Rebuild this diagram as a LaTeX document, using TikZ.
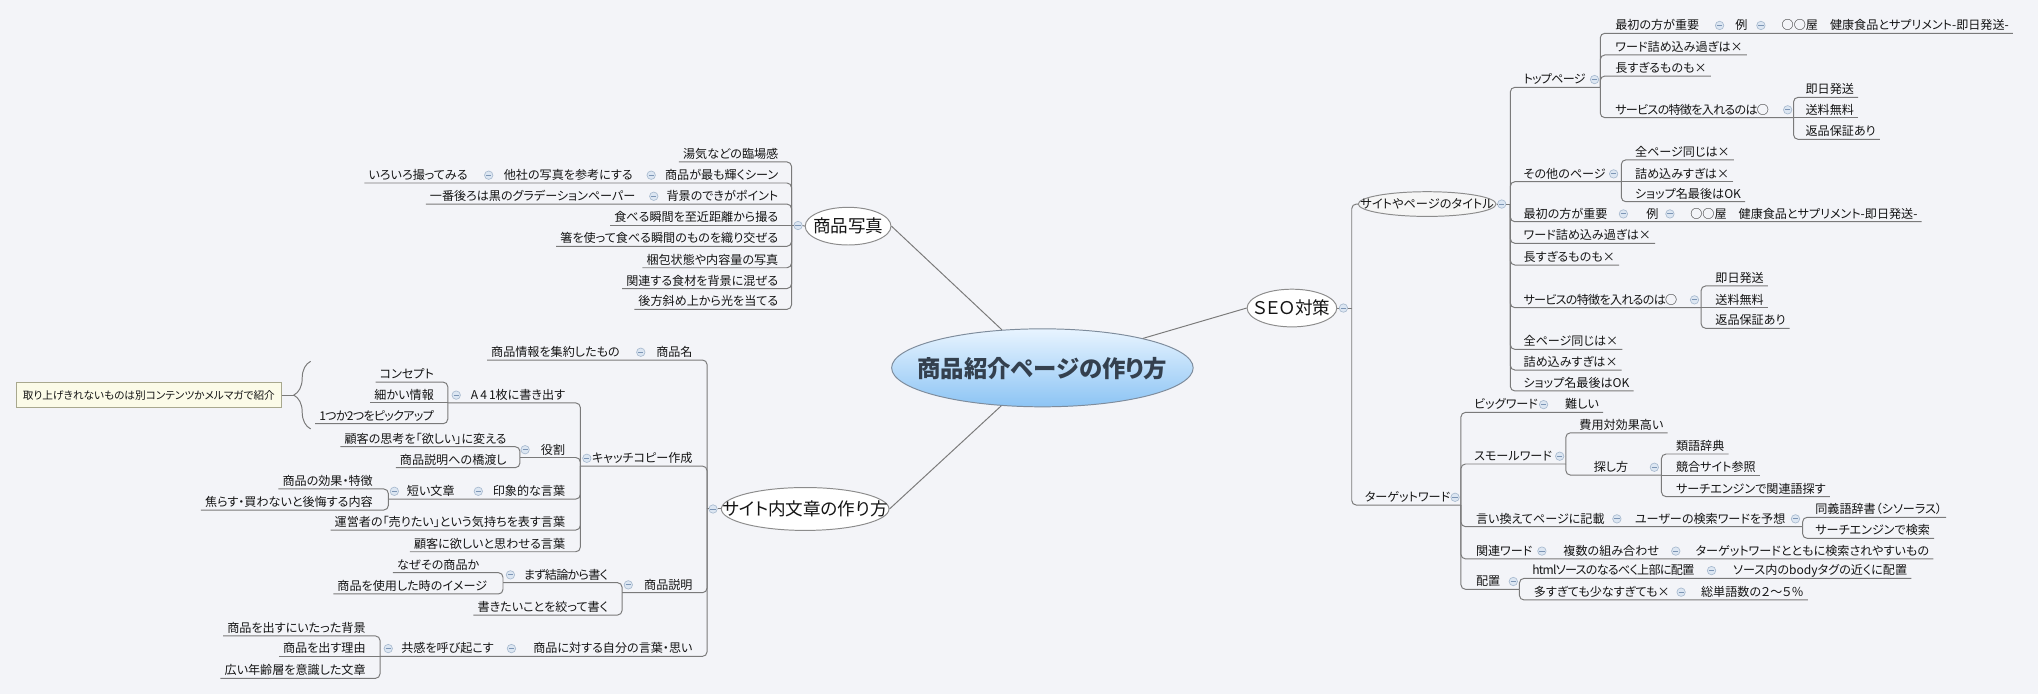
\documentclass[tikz,border=0pt]{standalone}
\usepackage{fontspec}
\setmainfont[RawFeature=+palt]{Noto Sans CJK JP}
\newfontfamily\narf[RawFeature=+palt, LetterSpace=-6]{Noto Sans CJK JP}
\usetikzlibrary{shapes.geometric,decorations.pathreplacing}
\definecolor{bg}{HTML}{F3F4F8}
\definecolor{linec}{HTML}{7A7A7A}
\definecolor{txtc}{HTML}{141414}
\definecolor{ellb}{HTML}{8C8C8C}
\definecolor{ttF}{HTML}{F5F5F5}
\definecolor{rootT}{HTML}{E8F4FF}
\definecolor{rootB}{HTML}{8CC4F4}
\definecolor{rootD}{HTML}{7E8C9C}
\definecolor{rootX}{HTML}{34404E}
\definecolor{btnF}{HTML}{DCE6F2}
\definecolor{btnD}{HTML}{A8BACF}
\definecolor{btnM}{HTML}{7C95B5}
\definecolor{cbF}{HTML}{FBFBE8}
\definecolor{cbD}{HTML}{A8A88E}
\newcommand\lf{\fontsize{9.3pt}{11pt}\selectfont}
\newcommand\Lk[2]{\draw[ln] (#1.south west) -- (#1.south west -| #2) -- (#2);}
\newcommand\Rk[2]{\draw[ln] (#1.south east) -- (#1.south east -| #2) -- (#2);}
\newcommand\Jk[2]{\draw[ln] (#1) -- (#1 -| #2) -- (#2);}
\newcommand\Lst[2]{\draw[ln] (#1.south west) -- (#2);}
\newcommand\Rst[2]{\draw[ln] (#1.south east) -- (#2);}
\begin{document}
\begin{tikzpicture}[x=1pt,y=-1pt,
 tx/.style={font=\lf, text=txtc, inner xsep=3pt, inner ysep=0pt, text height=8pt, text depth=2.5pt},
 L/.style={tx, anchor=south east},
 R/.style={tx, anchor=south west},
 nar/.style={font=\narf\lf},
 ln/.style={draw=linec, line width=0.75pt, rounded corners=3.5pt},
 btn/.style={circle, draw=btnD, fill=btnF, line width=0.5pt, minimum size=6.5pt, inner sep=0pt,
   path picture={\draw[btnM, line width=0.7pt] ([xshift=-2pt]path picture bounding box.center) -- ([xshift=2pt]path picture bounding box.center);}},
 el/.style={ellipse, draw=ellb, fill=white, line width=0.75pt, inner sep=0pt},
 big/.style={font=\fontsize{13.5pt}{15pt}\selectfont, text=txtc, inner sep=0pt},
]
\fill[bg] (0,0) rectangle (1568,534);
\useasboundingbox (0,0) rectangle (1568,534);

% ---------- root ----------
\node[ellipse, draw=rootD, top color=rootT, bottom color=rootB, line width=0.75pt, minimum width=232pt, minimum height=60pt, inner sep=0pt] (root) at (802,283) {};
\node[font=\bfseries\fontsize{18pt}{20pt}\selectfont, text=rootX, inner sep=0pt] (rootT) at (802,284) {商品紹介ページの作り方};

% ---------- 商品写真 ----------
\node[el, minimum width=66pt, minimum height=29pt] (sp) at (652.5,174) {};
\node[big] (spT) at (652.5,174) {商品写真};
\coordinate (Jsp) at (609,173.5);
\node[btn] (bsp) at (614,173.5) {};
\node[L] (sp1) at (602,124.6) {湯気などの臨場感};
\node[L] (sp2) at (602,140.8) {商品が最も輝くシーン};
\node[btn] (bsp2) at (501,134.8) {};
\node[L] (sp2a) at (490,140.8) {他社の写真を参考にする};
\node[btn] (bsp2a) at (376,134.8) {};
\node[L] (sp2b) at (363,140.8) {いろいろ撮ってみる};
\node[L] (sp3) at (602,157) {背景のできがポイント};
\node[btn] (bsp3) at (503,151) {};
\node[L] (sp3a) at (492,157) {一番後ろは黒のグラデーションペーパー};
\node[L] (sp4) at (602,173.5) {食べる瞬間を至近距離から撮る};
\node[L] (sp5) at (602,189.5) {箸を使って食べる瞬間のものを織り交ぜる};
\node[L] (sp6) at (602,206) {梱包状態や内容量の写真};
\node[L] (sp7) at (602,222) {関連する食材を背景に混ぜる};
\node[L] (sp8) at (602,238) {後方斜め上から光を当てる};

% ---------- サイト内文章の作り方 ----------
\node[el, minimum width=129pt, minimum height=33pt] (sit) at (619.5,391.6) {};
\node[big] (sitT) at (619.5,391.6) {サイト内文章の作り方};
\coordinate (Jsit) at (544,391.6);
\node[btn] (bsit) at (548.6,391.6) {};
\node[L] (shn) at (536,277) {商品名};
\node[btn] (bshn) at (493,271) {};
\node[L] (shn1) at (480,277) {商品情報を集約したもの};
\node[L] (cc) at (536,358.6) {キャッチコピー作成};
\node[btn] (bcc) at (451.5,352.6) {};
\coordinate (Jcc) at (446.5,358.6);
\node[L] (ss) at (536,456) {商品説明};
\node[btn] (bss) at (483.4,450) {};
\coordinate (Jss) at (478.6,456);
\node[L] (so) at (536,505) {商品に対する自分の言葉・思い};
\node[btn] (bso) at (393.5,499) {};
\node[L] (so1) at (383,505) {共感を呼び起こす};
\node[btn] (bso1) at (298.7,499) {};
\coordinate (Jso1) at (292.4,505);

% キャッチコピー作成
\node[L] (a41) at (438,310) {A\,4\,1枚に書き出す};
\node[btn] (ba41) at (351,304) {};
\coordinate (Ja41) at (344.5,310);
\node[L] (yk) at (438,352) {役割};
\node[btn] (byk) at (404,346) {};
\coordinate (Jyk) at (400,352);
\node[L] (ins) at (438,384) {印象的な言葉};
\node[btn] (bins) at (368,378) {};
\node[L] (mj) at (353,384) {短い文章};
\node[btn] (bmj) at (303.4,378) {};
\coordinate (Jmj) at (298.8,384);
\node[L] (un) at (438,407.8) {運営者の「売りたい」という気持ちを表す言葉};
\node[L] (kk) at (438,424.5) {顧客に欲しいと思わせる言葉};

\node[L] (cn) at (337,294) {コンセプト};
\node[L] (ck) at (337,310) {細かい情報};
\node[L, nar] (pk) at (337,326) {1つか2つをピックアップ};

\node[L] (kh) at (393,343.7) {顧客の思考を「欲しい」に変える};
\node[L] (hs) at (393,359.8) {商品説明への橋渡し};

\node[L] (kt) at (290,376.2) {商品の効果・特徴};
\node[L] (ab) at (290,392.4) {焦らす・買わないと後悔する内容};

\node[L, nar] (mk) at (471,448.3) {まず結論から書く};
\node[btn] (bmk) at (392.7,442.3) {};
\coordinate (Jmk) at (387,448.3);
\node[L] (kt2) at (471,473.2) {書きたいことを絞って書く};
\node[L] (nz) at (372,440.6) {なぜその商品か};
\node[L] (im) at (378,457) {商品を使用した時のイメージ};

\node[L] (hk) at (284.5,489.3) {商品を出すにいたった背景};
\node[L] (ri) at (284.5,505) {商品を出す理由};
\node[L] (hn) at (284.5,521.9) {広い年齢層を意識した文章};

% brace + callout
\coordinate (brB) at (239,330);
\coordinate (brT) at (239,278);
\coordinate (brTip) at (226,304);
\draw[draw=linec, line width=0.75pt, decorate, decoration={brace, amplitude=13pt}] (brB) -- (brT);
\node[draw=cbD, fill=cbF, line width=0.6pt, minimum width=204pt, minimum height=19pt, inner sep=0pt,
  font=\fontsize{8.2pt}{10pt}\selectfont, text=txtc] (cb) at (114.5,304) {取り上げきれないものは別コンテンツかメルマガで紹介};
\draw[ln] (cb.east) -- (brTip);

% ---------- SEO対策 ----------
\node[el, minimum width=69pt, minimum height=29pt] (seo) at (994,237) {};
\node[big] (seoT) at (994,237) {ＳＥＯ対策};
\coordinate (Jseo) at (1040,237);
\node[btn] (bseo) at (1033.6,237) {};

\node[el, fill=ttF, minimum width=106pt, minimum height=19pt] (tt) at (1098,157) {};
\node[font=\fontsize{9.4pt}{11pt}\selectfont, text=txtc, inner sep=0pt] (ttT) at (1098,157) {サイトやページのタイトル};
\node[btn] (btt) at (1155.4,157) {};
\coordinate (Jtt) at (1162,157);

\node[R] (tw) at (1047,388.6) {ターゲットワード};
\node[btn] (btw) at (1119.5,382.6) {};
\coordinate (Jtw) at (1124,388.6);

% タイトル children
\node[R, nar] (tp) at (1169,67.2) {トップページ};
\node[btn] (btp) at (1226.8,61.2) {};
\coordinate (Jtp) at (1231.2,67.2);
\node[R] (so2) at (1169,139.8) {その他のページ};
\node[btn] (bso2) at (1241.5,133.8) {};
\coordinate (Jso2) at (1247.4,139.8);
\node[R] (fi2) at (1169,170.6) {最初の方が重要};
\node[btn] (bfi2) at (1249,164.6) {};
\node[R] (fi2a) at (1263.5,170.6) {例};
\node[btn] (bfi2a) at (1284.8,164.6) {};
\node[R] (fi2b) at (1297.3,170.6) {○○屋　健康食品とサプリメント-即日発送-};
\node[R] (wd2) at (1169,187.2) {ワード詰め込み過ぎは×};
\node[R] (ng2) at (1169,203.9) {長すぎるものも×};
\node[R, nar] (sv2) at (1169,236.7) {サービスの特徴を入れるのは○};
\node[btn] (bsv2) at (1303.7,230.7) {};
\coordinate (Jsv2) at (1308.8,236.7);
\node[R] (ap2) at (1169,268.8) {全ページ同じは×};
\node[R] (tm2) at (1169,284.7) {詰め込みすぎは×};
\node[R] (sh2) at (1169,300.8) {ショップ名最後はOK};

\node[R] (fi1) at (1239.6,25.6) {最初の方が重要};
\node[btn] (bfi1) at (1323,19.6) {};
\node[R] (fi1a) at (1332,25.6) {例};
\node[btn] (bfi1a) at (1354.8,19.6) {};
\node[R] (fi1b) at (1367.6,25.6) {○○屋　健康食品とサプリメント-即日発送-};
\node[R] (wd1) at (1239.6,42.3) {ワード詰め込み過ぎは×};
\node[R] (ng1) at (1239.6,58.5) {長すぎるものも×};
\node[R, nar] (sv1) at (1239.6,90.5) {サービスの特徴を入れるのは○};
\node[btn] (bsv1) at (1375.4,84.5) {};
\coordinate (Jsv1) at (1379.9,90.5);
\node[R] (jh1) at (1386,74.9) {即日発送};
\node[R] (sr1) at (1386,90.5) {送料無料};
\node[R] (hp1) at (1386,107.2) {返品保証あり};

\node[R] (ap1) at (1254.8,123) {全ページ同じは×};
\node[R] (tm1) at (1254.8,139.8) {詰め込みすぎは×};
\node[R] (sh1) at (1254.8,155.2) {ショップ名最後はOK};

\node[R] (jh2) at (1316.6,220) {即日発送};
\node[R] (sr2) at (1316.6,236.7) {送料無料};
\node[R] (hp2) at (1316.6,252.6) {返品保証あり};

% ターゲットワード children
\node[R] (bw) at (1131,317.3) {ビッグワード};
\node[btn] (bbw) at (1187.6,311.3) {};
\node[R] (bwa) at (1201,317.3) {難しい};
\node[R] (sw) at (1131,357) {スモールワード};
\node[btn] (bsw) at (1200,351) {};
\coordinate (Jsw) at (1204.7,357);
\node[R] (ik) at (1132.4,405.2) {言い換えてページに記載};
\node[btn] (bik) at (1244,399.2) {};
\node[R] (ika) at (1254.7,405.2) {ユーザーの検索ワードを予想};
\node[btn] (bika) at (1381.4,399.2) {};
\coordinate (Jus) at (1386.9,405.2);
\node[R] (kw) at (1132.4,430) {関連ワード};
\node[btn] (bkw) at (1186.3,424) {};
\node[R] (kwa) at (1199.7,430) {複数の組み合わせ};
\node[btn] (bkwa) at (1289.3,424) {};
\node[R] (kwb) at (1301.4,430) {ターゲットワードとともに検索されやすいもの};
\node[R] (hc) at (1132.4,453.4) {配置};
\node[btn] (bhc) at (1164.3,447.4) {};
\coordinate (Jhc) at (1169,453.4);

\node[R] (hy) at (1212,333) {費用対効果高い};
\node[R] (sg) at (1223,365.5) {探し方};
\node[btn] (bsg) at (1272.8,359.5) {};
\coordinate (Jsg) at (1278.3,365.5);
\node[R] (rg) at (1286.3,349.3) {類語辞典};
\node[R] (kg) at (1286.3,365.5) {競合サイト参照};
\node[R] (se) at (1286.3,382.1) {サーチエンジンで関連語探す};

\node[R] (dg) at (1393.5,398) {同義語辞書（シソーラス）};
\node[R] (sk) at (1393.5,414.2) {サーチエンジンで検索};

\node[R, nar] (ht) at (1175.7,445) {htmlソースのなるべく上部に配置};
\node[btn] (bht) at (1316.8,439) {};
\node[R] (hta) at (1330.3,445) {ソース内のbodyタグの近くに配置};
\node[R] (ot) at (1177,461.6) {多すぎても少なすぎても×};
\node[btn] (bot) at (1293.4,455.6) {};
\node[R] (ota) at (1305.6,461.6) {総単語数の２〜５％};

% ---------- connectors ----------
\draw[ln] (root) -- (sp.east);
\draw[ln] (root) -- (sit.east);
\draw[ln] (root) -- (seo.west);

\draw[ln] (Jsp) -- (bsp.west);
\draw[ln] (bsp.east) -- (sp.west);
\Lk{sp1}{Jsp} \Lk{sp2b}{Jsp} \Lk{sp3a}{Jsp} \Lst{sp4}{Jsp}
\Lk{sp5}{Jsp} \Lk{sp6}{Jsp} \Lk{sp7}{Jsp} \Lk{sp8}{Jsp}

\draw[ln] (Jsit) -- (bsit.west);
\draw[ln] (bsit.east) -- (sit.west);
\Lk{shn1}{Jsit} \Jk{Jcc}{Jsit} \Jk{Jss}{Jsit} \Jk{Jso1}{Jsit}

\Jk{Ja41}{Jcc} \Jk{Jyk}{Jcc} \Jk{Jmj}{Jcc} \Lk{un}{Jcc} \Lk{kk}{Jcc}
\Lk{cn}{Ja41} \Lst{ck}{Ja41} \Lk{pk}{Ja41}
\Lk{kh}{Jyk} \Lk{hs}{Jyk}
\Lk{kt}{Jmj} \Lk{ab}{Jmj}
\Jk{Jmk}{Jss} \Lk{kt2}{Jss}
\Lk{nz}{Jmk} \Lk{im}{Jmk}
\Lk{hk}{Jso1} \Lst{ri}{Jso1} \Lk{hn}{Jso1}

\draw[ln] (seo.east) -- (bseo.west);
\draw[ln] (bseo.east) -- (Jseo);
\draw[ln] (tt.west) -- (tt.west -| Jseo) -- (Jseo);
\Jk{Jtw}{Jseo}
\draw[ln] (tt.east) -- (btt.west);
\draw[ln] (btt.east) -- (Jtt);

\Jk{Jtp}{Jtt} \Jk{Jso2}{Jtt} \Rk{fi2b}{Jtt} \Rk{wd2}{Jtt} \Rk{ng2}{Jtt}
\Jk{Jsv2}{Jtt} \Rk{ap2}{Jtt} \Rk{tm2}{Jtt} \Rk{sh2}{Jtt}
\Rk{fi1b}{Jtp} \Rk{wd1}{Jtp} \Rk{ng1}{Jtp} \Jk{Jsv1}{Jtp}
\Rk{jh1}{Jsv1} \Rst{sr1}{Jsv1} \Rk{hp1}{Jsv1}
\Rk{ap1}{Jso2} \Rst{tm1}{Jso2} \Rk{sh1}{Jso2}
\Rk{jh2}{Jsv2} \Rst{sr2}{Jsv2} \Rk{hp2}{Jsv2}

\Rk{bwa}{Jtw} \Jk{Jsw}{Jtw} \Jk{Jus}{Jtw} \Rk{kwb}{Jtw} \Jk{Jhc}{Jtw}
\Rk{hy}{Jsw} \Jk{Jsg}{Jsw}
\Rk{rg}{Jsg} \Rst{kg}{Jsg} \Rk{se}{Jsg}
\Rk{dg}{Jus} \Rk{sk}{Jus}
\Rk{hta}{Jhc} \Rk{ota}{Jhc}
\end{tikzpicture}
\end{document}
